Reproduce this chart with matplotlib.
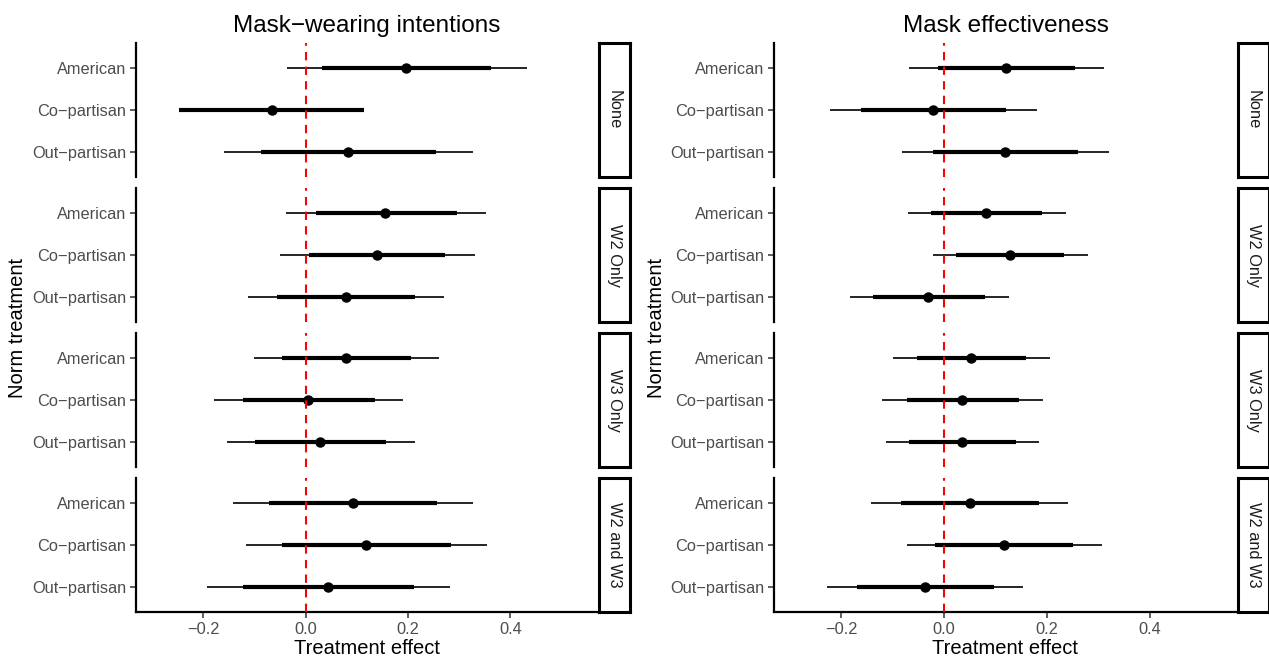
import numpy as np
import matplotlib
matplotlib.use("Agg")
import matplotlib.pyplot as plt

plt.rcParams['font.family'] = ['Liberation Sans', 'DejaVu Sans']

nan = np.nan
groups = ["None", "W2 Only", "W3 Only", "W2 and W3"]
norms = ["American", "Co\u2212partisan", "Out\u2212partisan"]
titles = ["Mask\u2212wearing intentions", "Mask effectiveness"]
xticks = [-0.2, 0.0, 0.2, 0.4]
xticklabels = ["\u22120.2", "0.0", "0.2", "0.4"]

# mask-wearing intentions, rows = groups, cols = norms
intent_est = [[0.197, -0.066, 0.083], [0.156, 0.139, 0.079],
              [0.079, 0.005, 0.028], [0.092, 0.118, 0.044]]
intent_lo90 = [[0.033, -0.247, -0.087], [0.020, 0.006, -0.055],
               [-0.046, -0.122, -0.098], [-0.072, -0.046, -0.122]]
intent_hi90 = [[0.363, 0.115, 0.254], [0.295, 0.273, 0.213],
               [0.205, 0.136, 0.158], [0.256, 0.284, 0.211]]
intent_lo95 = [[-0.037, nan, -0.159], [-0.038, -0.050, -0.113],
               [-0.100, -0.178, -0.154], [-0.142, -0.116, -0.193]]
intent_hi95 = [[0.433, nan, 0.327], [0.353, 0.330, 0.270],
               [0.260, 0.191, 0.213], [0.327, 0.354, 0.283]]

# mask effectiveness
eff_est = [[0.121, -0.022, 0.119], [0.082, 0.128, -0.031],
           [0.053, 0.035, 0.034], [0.050, 0.116, -0.037]]
eff_lo90 = [[-0.012, -0.161, -0.021], [-0.025, 0.023, -0.138],
            [-0.053, -0.073, -0.068], [-0.084, -0.017, -0.169]]
eff_hi90 = [[0.255, 0.120, 0.260], [0.191, 0.234, 0.079],
            [0.160, 0.146, 0.139], [0.185, 0.250, 0.097]]
eff_lo95 = [[-0.068, -0.222, -0.082], [-0.071, -0.021, -0.184],
            [-0.099, -0.120, -0.113], [-0.142, -0.073, -0.228]]
eff_hi95 = [[0.312, 0.181, 0.321], [0.238, 0.280, 0.126],
            [0.206, 0.192, 0.184], [0.242, 0.307, 0.154]]

panels = [
    (intent_est, intent_lo90, intent_hi90, intent_lo95, intent_hi95),
    (eff_est, eff_lo90, eff_hi90, eff_lo95, eff_hi95),
]

W, H = 1269, 662
fig = plt.figure(figsize=(W / 100, H / 100), dpi=100)

ax_left = [136, 774]
ax_right = [597.5, 1237]
strip_right = [630, 1268.5]
tops = [43 + 145 * i for i in range(4)]
ph = 134

for p, (est, lo90, hi90, lo95, hi95) in enumerate(panels):
    x0, x1 = ax_left[p], ax_right[p]
    for g in range(4):
        t = tops[g]
        ax = fig.add_axes([x0 / W, 1 - (t + ph) / H, (x1 - x0) / W, ph / H])
        y = np.arange(3)
        ax.hlines(y, lo95[g], hi95[g], color='black', lw=1.2, zorder=2)
        ax.hlines(y, lo90[g], hi90[g], color='black', lw=3.0, zorder=3)
        ax.plot(est[g], y, 'o', color='black', ms=6.5, zorder=4)
        ax.axvline(0, color='red', ls=(0, (4, 3)), lw=1.5, zorder=5)
        ax.set_xlim(-0.331, 0.570)
        ax.set_ylim(2.6, -0.6)
        ax.set_yticks(y)
        ax.set_yticklabels(norms, fontsize=11.8, color='#4D4D4D')
        for s in ['top', 'right']:
            ax.spines[s].set_visible(False)
        ax.spines['left'].set_linewidth(1.6)
        ax.tick_params(axis='y', length=4, width=1.1, color='#333333', pad=3)
        if g == 3:
            ax.spines['bottom'].set_linewidth(1.6)
            ax.set_xticks(xticks)
            ax.set_xticklabels(xticklabels, fontsize=11.8, color='#4D4D4D')
            ax.tick_params(axis='x', length=4, width=1.1, color='#333333', pad=3)
            ax.set_xlabel("Treatment effect", fontsize=14.5, labelpad=2)
        else:
            ax.spines['bottom'].set_visible(False)
            ax.set_xticks([])
        if g == 0:
            ax.set_title(titles[p], fontsize=17.5, pad=8)

        # facet strip on the right
        sx0, sx1 = x1 + 1, strip_right[p]
        sax = fig.add_axes([sx0 / W, 1 - (t + ph) / H, (sx1 - sx0) / W, ph / H])
        sax.set_xticks([])
        sax.set_yticks([])
        for s in sax.spines.values():
            s.set_linewidth(2.2)
        sax.text(0.5, 0.5, groups[g], rotation=-90, ha='center', va='center',
                 fontsize=11.8, color='#1A1A1A', transform=sax.transAxes)

    fig.text((ax_left[p] - 118) / W, 1 - 327.5 / H, "Norm treatment",
             rotation=90, ha='center', va='center', fontsize=14.5)

fig.savefig("out.png", dpi=100)
